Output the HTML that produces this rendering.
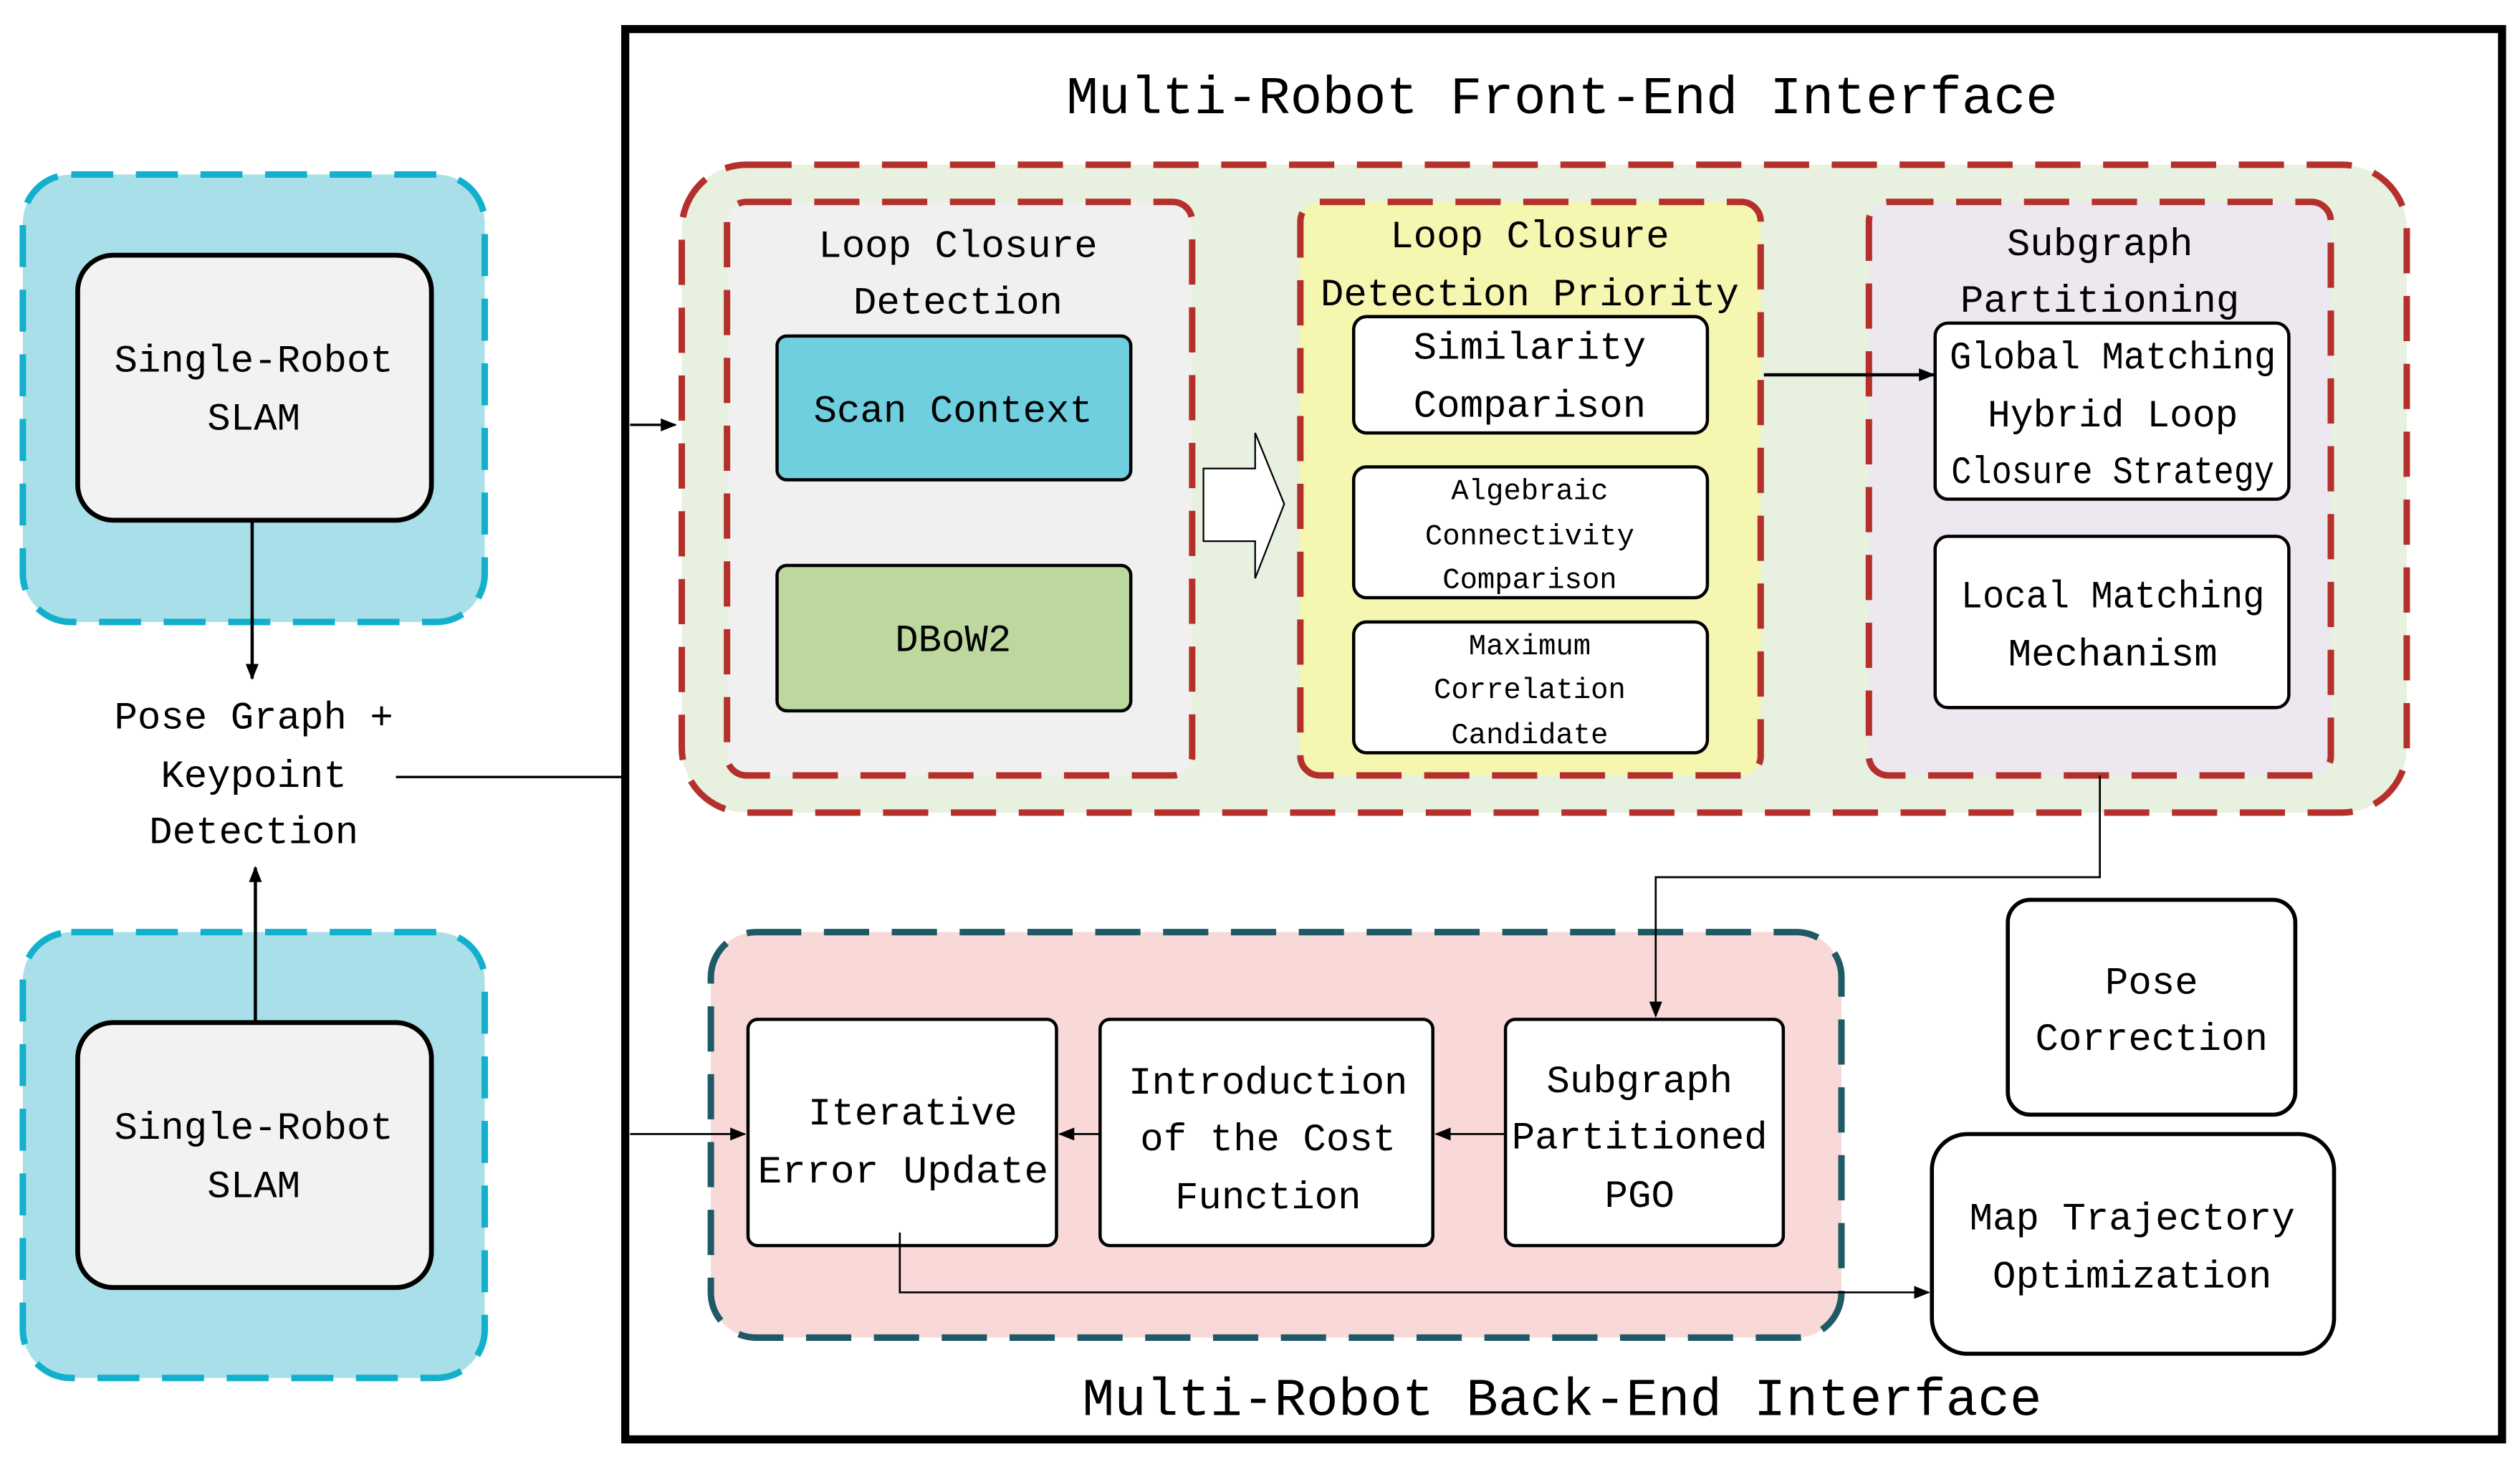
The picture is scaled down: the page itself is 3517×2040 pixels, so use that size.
<!DOCTYPE html>
<html><head><meta charset="utf-8"><style>html,body{margin:0;padding:0;background:#fff}svg{display:block}text{font-family:"Liberation Mono",monospace;fill:#000;text-anchor:middle}</style></head>
<body>
<svg width="3517" height="2040" viewBox="0 0 1560 905" xmlns="http://www.w3.org/2000/svg">
<defs><marker id="a" markerWidth="10" markerHeight="8" refX="9" refY="4" orient="auto" markerUnits="userSpaceOnUse"><path d="M0,0 L10,4 L0,8 Z" fill="#000"/></marker></defs>
<rect width="1560" height="905" fill="#fff"/>
<rect x="14" y="108" width="286" height="277" rx="30" fill="#a8dfe8" stroke="#12b0cc" stroke-width="4" stroke-dasharray="26,14"/>
<rect x="48" y="158" width="219" height="164" rx="22" fill="#f2f2f2" stroke="#000" stroke-width="3"/>
<text x="157" y="230" font-size="24">Single-Robot</text><text x="157" y="266" font-size="24">SLAM</text>
<rect x="14" y="577" width="286" height="276" rx="30" fill="#a8dfe8" stroke="#12b0cc" stroke-width="4" stroke-dasharray="26,14"/>
<rect x="48" y="633" width="219" height="164" rx="22" fill="#f2f2f2" stroke="#000" stroke-width="3"/>
<text x="157" y="705" font-size="24">Single-Robot</text><text x="157" y="741" font-size="24">SLAM</text>
<line x1="156" y1="322" x2="156" y2="420" stroke="#000" stroke-width="2" marker-end="url(#a)"/>
<line x1="158" y1="633" x2="158" y2="537" stroke="#000" stroke-width="2" marker-end="url(#a)"/>
<text x="157" y="451" font-size="24">Pose Graph +</text><text x="157" y="487" font-size="24">Keypoint</text><text x="157" y="522" font-size="24">Detection</text>
<line x1="245" y1="481" x2="387" y2="481" stroke="#000" stroke-width="1.5"/>
<rect x="387" y="18" width="1162" height="873" fill="none" stroke="#000" stroke-width="5"/>
<text x="967" y="70" font-size="33">Multi-Robot Front-End Interface</text>
<text x="967" y="876" font-size="33">Multi-Robot Back-End Interface</text>
<rect x="422" y="102" width="1068" height="401" rx="40" fill="#e8f0df" stroke="#b5302b" stroke-width="4" stroke-dasharray="28,14"/>
<rect x="450" y="125" width="288" height="355" rx="12" fill="#f0f0f0" stroke="#b5302b" stroke-width="4" stroke-dasharray="28,14"/>
<text x="593" y="159" font-size="24">Loop Closure</text><text x="593" y="194" font-size="24">Detection</text>
<rect x="481" y="208" width="219" height="89" rx="6" fill="#6fcfdf" stroke="#000" stroke-width="2"/>
<text x="590" y="261" font-size="24">Scan Context</text>
<rect x="481" y="350" width="219" height="90" rx="6" fill="#bcd89f" stroke="#000" stroke-width="2"/>
<text x="590" y="403" font-size="24">DBoW2</text>
<path d="M745,290 L777,290 L777,268 L795,312 L777,358 L777,335 L745,335 Z" fill="#fff" stroke="#000" stroke-width="1"/>
<rect x="805" y="125" width="285" height="355" rx="12" fill="#f5f6b0" stroke="#b5302b" stroke-width="4" stroke-dasharray="28,14"/>
<text x="947" y="153" font-size="24">Loop Closure</text><text x="947" y="189" font-size="24">Detection Priority</text>
<rect x="838" y="196" width="219" height="72" rx="8" fill="#fff" stroke="#000" stroke-width="2"/>
<text x="947" y="222" font-size="24">Similarity</text><text x="947" y="258" font-size="24">Comparison</text>
<rect x="838" y="289" width="219" height="81" rx="8" fill="#fff" stroke="#000" stroke-width="2"/>
<text x="947" y="309" font-size="18">Algebraic</text><text x="947" y="337" font-size="18">Connectivity</text><text x="947" y="364" font-size="18">Comparison</text>
<rect x="838" y="385" width="219" height="81" rx="8" fill="#fff" stroke="#000" stroke-width="2"/>
<text x="947" y="405" font-size="18">Maximum</text><text x="947" y="432" font-size="18">Correlation</text><text x="947" y="460" font-size="18">Candidate</text>
<rect x="1157" y="125" width="286" height="355" rx="12" fill="#ede8f0" stroke="#b5302b" stroke-width="4" stroke-dasharray="28,14"/>
<text x="1300" y="158" font-size="24">Subgraph</text><text x="1300" y="193" font-size="24">Partitioning</text>
<rect x="1198" y="200" width="219" height="109" rx="8" fill="#fff" stroke="#000" stroke-width="2"/>
<text x="1308" y="228" font-size="24" textLength="202" lengthAdjust="spacingAndGlyphs">Global Matching</text><text x="1308" y="264" font-size="24" textLength="155" lengthAdjust="spacingAndGlyphs">Hybrid Loop</text><text x="1308" y="299" font-size="24" textLength="200" lengthAdjust="spacingAndGlyphs">Closure Strategy</text>
<rect x="1198" y="332" width="219" height="106" rx="8" fill="#fff" stroke="#000" stroke-width="2"/>
<text x="1308" y="376" font-size="24" textLength="188" lengthAdjust="spacingAndGlyphs">Local Matching</text><text x="1308" y="412" font-size="24">Mechanism</text>
<rect x="440" y="577" width="700" height="251" rx="28" fill="#f8d9d7" stroke="#1d5a66" stroke-width="4" stroke-dasharray="28,14"/>
<rect x="463" y="631" width="191" height="140" rx="6" fill="#fff" stroke="#000" stroke-width="2"/>
<text x="565" y="696" font-size="24">Iterative</text><text x="559" y="732" font-size="24" textLength="180" lengthAdjust="spacingAndGlyphs">Error Update</text>
<rect x="681" y="631" width="206" height="140" rx="6" fill="#fff" stroke="#000" stroke-width="2"/>
<text x="785" y="677" font-size="24">Introduction</text><text x="785" y="712" font-size="24">of the Cost</text><text x="785" y="748" font-size="24">Function</text>
<rect x="932" y="631" width="172" height="140" rx="6" fill="#fff" stroke="#000" stroke-width="2"/>
<text x="1015" y="676" font-size="24">Subgraph</text><text x="1015" y="711" font-size="24">Partitioned</text><text x="1015" y="747" font-size="24">PGO</text>
<rect x="1243" y="557" width="178" height="133" rx="14" fill="#fff" stroke="#000" stroke-width="2.5"/>
<text x="1332" y="615" font-size="24">Pose</text><text x="1332" y="650" font-size="24">Correction</text>
<rect x="1196" y="702" width="249" height="136" rx="22" fill="#fff" stroke="#000" stroke-width="2.5"/>
<text x="1320" y="761" font-size="24">Map Trajectory</text><text x="1320" y="797" font-size="24">Optimization</text>
<line x1="390" y1="263" x2="418" y2="263" stroke="#000" stroke-width="1.5" marker-end="url(#a)"/>
<line x1="1092" y1="232" x2="1197" y2="232" stroke="#000" stroke-width="2" marker-end="url(#a)"/>
<polyline points="1300,480 1300,543 1025,543 1025,629" fill="none" stroke="#000" stroke-width="1.2" marker-end="url(#a)"/>
<line x1="932" y1="702" x2="889" y2="702" stroke="#000" stroke-width="1.2" marker-end="url(#a)"/>
<line x1="681" y1="702" x2="656" y2="702" stroke="#000" stroke-width="1.2" marker-end="url(#a)"/>
<line x1="390" y1="702" x2="461" y2="702" stroke="#000" stroke-width="1.2" marker-end="url(#a)"/>
<polyline points="557,763 557,800 1194,800" fill="none" stroke="#000" stroke-width="1.2" marker-end="url(#a)"/>
</svg>
</body></html>
